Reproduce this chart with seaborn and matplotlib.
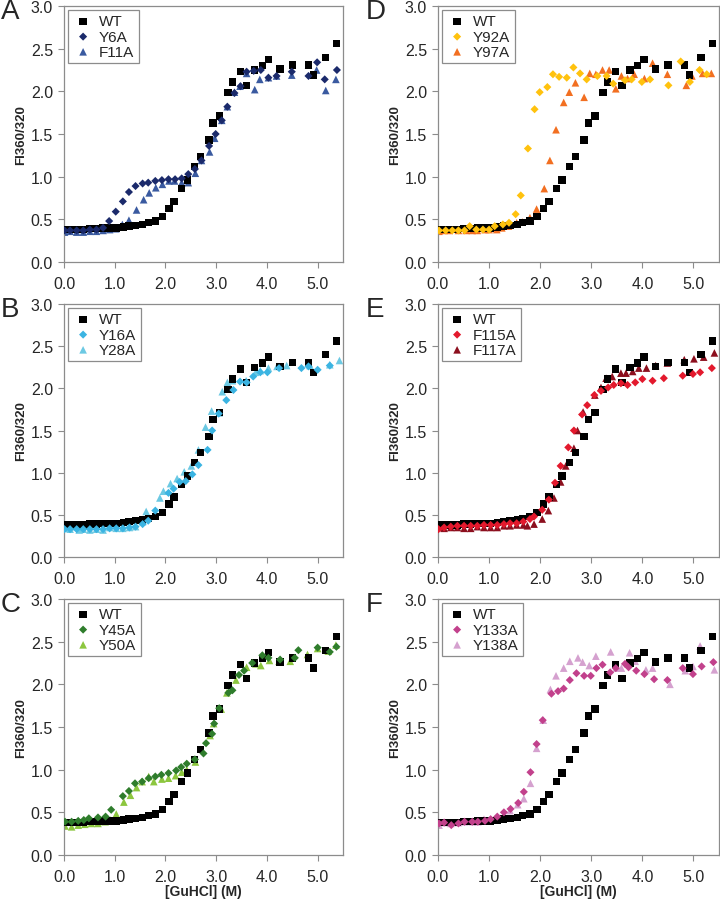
import numpy as np
import pandas as pd
import matplotlib
matplotlib.use("Agg")
import matplotlib.pyplot as plt
import seaborn as sns

sns.set_style("white")
plt.rcParams['font.family'] = ['Liberation Sans', 'DejaVu Sans']

# wild type, same curve in every panel
wt_x = [0.01, 0.11, 0.25, 0.38, 0.51, 0.64, 0.77, 0.90, 1.03, 1.17, 1.28, 1.41, 1.55, 1.66, 1.80, 1.94,
        2.07, 2.17, 2.32, 2.43, 2.57, 2.69, 2.86, 2.94, 3.07, 3.23, 3.32, 3.48, 3.60, 3.76, 3.91, 4.03,
        4.26, 4.50, 4.82, 4.92, 5.15, 5.37]
wt_y = [0.38, 0.38, 0.38, 0.38, 0.39, 0.39, 0.40, 0.40, 0.40, 0.41, 0.42, 0.43, 0.44, 0.46, 0.48, 0.53,
        0.63, 0.71, 0.86, 0.96, 1.12, 1.24, 1.43, 1.63, 1.71, 1.99, 2.11, 2.23, 2.07, 2.25, 2.30, 2.37,
        2.26, 2.31, 2.31, 2.19, 2.40, 2.56]

# panel A
y6a_x = [0.01, 0.12, 0.25, 0.38, 0.51, 0.64, 0.77, 0.89, 1.02, 1.16, 1.28, 1.41, 1.55, 1.66, 1.80, 1.93,
         2.06, 2.19, 2.32, 2.45, 2.58, 2.71, 2.86, 2.99, 3.11, 3.22, 3.36, 3.48, 3.60, 3.74, 3.88, 4.03,
         4.19, 4.49, 4.82, 4.99, 5.14, 5.38]
y6a_y = [0.37, 0.37, 0.37, 0.37, 0.38, 0.38, 0.40, 0.48, 0.59, 0.71, 0.82, 0.89, 0.92, 0.93, 0.95, 0.96,
         0.97, 0.97, 0.98, 1.03, 1.09, 1.19, 1.36, 1.50, 1.66, 1.82, 1.98, 2.06, 2.23, 2.24, 2.25, 2.16,
         2.18, 2.23, 2.18, 2.34, 2.14, 2.25]
f11a_x = [0.01, 0.12, 0.25, 0.38, 0.51, 0.64, 0.77, 0.90, 1.02, 1.15, 1.28, 1.43, 1.57, 1.68, 1.81, 1.94,
          2.07, 2.18, 2.32, 2.45, 2.59, 2.71, 2.87, 2.97, 3.11, 3.22, 3.36, 3.47, 3.60, 3.76, 3.86, 4.03,
          4.19, 4.49, 4.82, 4.98, 5.16, 5.36]
f11a_y = [0.35, 0.36, 0.35, 0.35, 0.36, 0.36, 0.37, 0.38, 0.39, 0.44, 0.49, 0.61, 0.73, 0.81, 0.87, 0.91,
          0.95, 0.95, 0.93, 0.93, 1.04, 1.19, 1.29, 1.45, 1.66, 1.82, 1.99, 2.06, 2.21, 2.02, 2.14, 2.16,
          2.18, 2.19, 2.31, 2.25, 2.01, 2.14]

# panel B
y16a_x = [0.01, 0.12, 0.25, 0.38, 0.51, 0.64, 0.77, 0.90, 1.03, 1.16, 1.29, 1.41, 1.55, 1.66, 1.80, 2.06,
          2.16, 2.28, 2.40, 2.53, 2.65, 2.83, 2.92, 3.05, 3.20, 3.34, 3.47, 3.60, 3.73, 3.87, 4.01, 4.24,
          4.68, 4.82, 5.00, 5.24]
y16a_y = [0.33, 0.33, 0.33, 0.33, 0.33, 0.33, 0.33, 0.34, 0.34, 0.34, 0.35, 0.36, 0.39, 0.43, 0.55, 0.76,
          0.81, 0.89, 0.90, 0.98, 1.09, 1.27, 1.50, 1.70, 1.86, 1.98, 2.08, 2.07, 2.14, 2.19, 2.19, 2.24,
          2.24, 2.26, 2.22, 2.27]
y28a_x = [0.01, 0.12, 0.25, 0.30, 0.38, 0.51, 0.64, 0.77, 0.90, 1.03, 1.16, 1.29, 1.41, 1.55, 1.62, 1.89,
          1.96, 2.10, 2.23, 2.37, 2.51, 2.65, 2.79, 2.91, 3.06, 3.12, 3.22, 3.32, 3.59, 3.78, 3.87, 4.03,
          4.20, 4.39, 4.85, 5.24, 5.43]
y28a_y = [0.34, 0.33, 0.36, 0.32, 0.33, 0.32, 0.33, 0.32, 0.35, 0.34, 0.34, 0.35, 0.36, 0.42, 0.54, 0.70,
          0.78, 0.87, 0.93, 1.01, 1.08, 1.27, 1.54, 1.73, 1.71, 1.96, 2.07, 2.09, 2.09, 2.19, 2.21, 2.24,
          2.26, 2.27, 2.27, 2.28, 2.33]

# panel C
y45a_x = [0.02, 0.15, 0.28, 0.39, 0.49, 0.67, 0.82, 0.93, 1.16, 1.28, 1.40, 1.54, 1.67, 1.80, 1.92, 2.06,
          2.21, 2.31, 2.42, 2.58, 2.75, 2.80, 2.92, 2.96, 3.06, 3.24, 3.32, 3.45, 3.55, 3.71, 3.91, 4.03,
          4.26, 4.55, 4.62, 5.00, 5.24, 5.37]
y45a_y = [0.39, 0.39, 0.40, 0.41, 0.43, 0.44, 0.45, 0.53, 0.69, 0.75, 0.84, 0.86, 0.90, 0.92, 0.94, 0.96,
          0.99, 1.03, 1.07, 1.12, 1.19, 1.31, 1.42, 1.54, 1.72, 1.90, 1.93, 2.11, 2.16, 2.25, 2.34, 2.31,
          2.29, 2.31, 2.40, 2.43, 2.38, 2.44]
y50a_x = [0.02, 0.15, 0.28, 0.41, 0.54, 0.67, 0.81, 0.92, 1.03, 1.18, 1.31, 1.43, 1.54, 1.67, 1.77, 1.93,
          2.06, 2.20, 2.32, 2.42, 2.59, 2.88, 2.95, 3.10, 3.21, 3.39, 3.60, 3.78, 3.88, 4.05, 4.24, 4.46,
          4.80, 5.00, 5.21, 5.36]
y50a_y = [0.34, 0.33, 0.35, 0.36, 0.37, 0.37, 0.39, 0.41, 0.48, 0.62, 0.70, 0.79, 0.86, 0.92, 0.86, 0.89,
          0.90, 0.93, 0.97, 1.00, 1.09, 1.40, 1.54, 1.71, 1.90, 2.05, 2.20, 2.24, 2.22, 2.28, 2.27, 2.27,
          2.35, 2.42, 2.39, 2.46]

# panel D
y92a_x = [0.02, 0.15, 0.28, 0.40, 0.52, 0.62, 0.75, 0.88, 1.00, 1.11, 1.27, 1.39, 1.52, 1.62, 1.76, 1.89,
          1.99, 2.14, 2.25, 2.37, 2.52, 2.65, 2.78, 2.91, 3.12, 3.30, 3.43, 3.66, 3.79, 3.99, 4.15, 4.51,
          4.75, 4.93, 5.12, 5.26]
y92a_y = [0.37, 0.37, 0.37, 0.37, 0.37, 0.42, 0.38, 0.38, 0.38, 0.42, 0.44, 0.46, 0.56, 0.78, 1.33, 1.79,
          1.99, 2.05, 2.20, 2.17, 2.16, 2.28, 2.21, 2.14, 2.18, 2.18, 2.09, 2.13, 2.14, 2.11, 2.14, 2.07,
          2.35, 2.11, 2.25, 2.20]
y97a_x = [0.02, 0.12, 0.22, 0.40, 0.55, 0.67, 0.77, 0.92, 1.00, 1.15, 1.25, 1.38, 1.54, 1.65, 1.80, 1.93,
          2.08, 2.19, 2.31, 2.46, 2.57, 2.69, 2.86, 2.97, 3.09, 3.22, 3.35, 3.48, 3.59, 3.71, 3.84, 4.04,
          4.20, 4.49, 4.86, 4.97, 5.18, 5.35]
y97a_y = [0.36, 0.37, 0.37, 0.37, 0.37, 0.37, 0.37, 0.38, 0.38, 0.38, 0.40, 0.42, 0.46, 0.47, 0.52, 0.62,
          0.86, 1.19, 1.55, 1.87, 1.99, 2.10, 1.93, 2.21, 2.20, 2.25, 2.25, 2.03, 2.18, 2.15, 2.20, 2.15,
          2.33, 2.20, 2.07, 2.18, 2.21, 2.21]

# panel E
f115a_x = [0.01, 0.12, 0.25, 0.38, 0.51, 0.64, 0.77, 0.90, 1.03, 1.16, 1.29, 1.41, 1.54, 1.67, 1.80, 1.88,
           2.04, 2.17, 2.29, 2.40, 2.55, 2.66, 2.82, 2.92, 3.06, 3.19, 3.33, 3.44, 3.58, 3.71, 3.86, 4.00,
           4.20, 4.42, 4.79, 4.99, 5.13, 5.36]
f115a_y = [0.33, 0.35, 0.36, 0.37, 0.37, 0.37, 0.37, 0.38, 0.38, 0.38, 0.39, 0.40, 0.40, 0.42, 0.45, 0.48,
           0.56, 0.68, 0.88, 1.08, 1.30, 1.50, 1.69, 1.80, 1.92, 1.97, 2.01, 2.04, 2.06, 2.04, 2.07, 2.11,
           2.09, 2.12, 2.15, 2.17, 2.19, 2.24]
f117a_x = [0.01, 0.12, 0.25, 0.38, 0.51, 0.64, 0.77, 0.90, 1.03, 1.16, 1.29, 1.41, 1.54, 1.67, 1.75, 1.88,
           2.04, 2.16, 2.27, 2.40, 2.50, 2.66, 2.73, 2.84, 3.07, 3.19, 3.29, 3.41, 3.58, 3.68, 3.81, 3.93,
           4.08, 4.26, 4.49, 4.82, 5.01, 5.20, 5.41]
f117a_y = [0.35, 0.34, 0.35, 0.35, 0.34, 0.34, 0.36, 0.35, 0.35, 0.35, 0.37, 0.37, 0.38, 0.38, 0.37, 0.39,
           0.45, 0.55, 0.70, 0.89, 1.08, 1.29, 1.50, 1.72, 1.92, 2.01, 2.12, 2.14, 2.18, 2.18, 2.20, 2.24,
           2.24, 2.27, 2.30, 2.34, 2.35, 2.37, 2.42]

# panel F
y133a_x = [0.02, 0.12, 0.26, 0.40, 0.52, 0.67, 0.78, 0.92, 1.03, 1.16, 1.29, 1.42, 1.57, 1.68, 1.81, 1.93,
           2.05, 2.22, 2.35, 2.46, 2.58, 2.71, 2.86, 2.99, 3.10, 3.22, 3.37, 3.48, 3.66, 3.73, 3.88, 4.04,
           4.23, 4.49, 4.79, 4.99, 5.16, 5.39]
y133a_y = [0.37, 0.38, 0.35, 0.37, 0.39, 0.39, 0.39, 0.40, 0.42, 0.45, 0.50, 0.54, 0.61, 0.74, 0.97, 1.30,
           1.58, 1.89, 1.92, 1.95, 2.05, 2.13, 2.10, 2.10, 2.19, 2.23, 2.14, 2.19, 2.24, 2.20, 2.16, 2.12,
           2.06, 2.05, 2.19, 2.12, 2.21, 2.26]
y138a_x = [0.02, 0.12, 0.25, 0.40, 0.52, 0.67, 0.78, 0.90, 1.03, 1.16, 1.29, 1.41, 1.56, 1.68, 1.81, 1.93,
           2.06, 2.20, 2.31, 2.46, 2.58, 2.74, 2.83, 2.96, 3.09, 3.38, 3.49, 3.59, 3.75, 3.86, 4.07, 4.20,
           4.54, 4.84, 4.99, 5.13, 5.41]
y138a_y = [0.35, 0.38, 0.37, 0.38, 0.39, 0.39, 0.39, 0.42, 0.41, 0.44, 0.47, 0.52, 0.59, 0.66, 0.84, 1.25,
           1.58, 1.94, 2.10, 2.19, 2.27, 2.31, 2.26, 2.22, 2.33, 2.38, 2.19, 2.19, 2.37, 2.27, 2.17, 2.19,
           2.00, 2.16, 2.21, 2.45, 2.17]

panel_letters = ["A", "B", "C", "D", "E", "F"]
mutant_names = [("Y6A", "F11A"), ("Y16A", "Y28A"), ("Y45A", "Y50A"),
                ("Y92A", "Y97A"), ("F115A", "F117A"), ("Y133A", "Y138A")]
mutant_data = [((y6a_x, y6a_y), (f11a_x, f11a_y)),
               ((y16a_x, y16a_y), (y28a_x, y28a_y)),
               ((y45a_x, y45a_y), (y50a_x, y50a_y)),
               ((y92a_x, y92a_y), (y97a_x, y97a_y)),
               ((f115a_x, f115a_y), (f117a_x, f117a_y)),
               ((y133a_x, y133a_y), (y138a_x, y138a_y))]
mutant_colors = [("#1b2a6b", "#3a5aa0"), ("#3bb4e2", "#6cc9e3"), ("#2f7d2c", "#8cc63e"),
                 ("#ffc20e", "#f26f21"), ("#e3192d", "#8c0f1e"), ("#c2418c", "#d5a1cf")]

fig = plt.figure(figsize=(7.2, 9.03), dpi=100)
W, H = 720, 903
col_left = [64, 438]
col_width = [279, 281]
row_top = [7, 305, 600]
row_bot = [263, 558, 856]
grey = "#8c8c8c"
ticks_x = np.arange(0, 6, 1.0)
ticks_y = np.arange(0, 3.01, 0.5)

for i in range(6):
    c, r = i // 3, i % 3
    ax = fig.add_axes([col_left[c] / W, 1 - row_bot[r] / H,
                       col_width[c] / W, (row_bot[r] - row_top[r]) / H])
    sns.scatterplot(x=wt_x, y=wt_y, ax=ax, marker="s", s=28, color="black",
                    edgecolor="none", label="WT", zorder=3)
    (ax1, ay1), (ax2, ay2) = mutant_data[i]
    n1, n2 = mutant_names[i]
    c1, c2 = mutant_colors[i]
    sns.scatterplot(x=ax1, y=ay1, ax=ax, marker="D", s=17, color=c1,
                    edgecolor="none", label=n1, zorder=4)
    sns.scatterplot(x=ax2, y=ay2, ax=ax, marker="^", s=30, color=c2,
                    edgecolor="none", label=n2, zorder=2)
    ax.set_xlim(0, 5.5)
    ax.set_ylim(0, 3.0)
    ax.set_xticks(ticks_x)
    ax.set_xticklabels([f"{v:.1f}" for v in ticks_x])
    ax.set_yticks(ticks_y)
    ax.set_yticklabels([f"{v:.1f}" for v in ticks_y])
    ax.tick_params(axis="both", direction="out", length=4, width=0.8, color=grey,
                   labelsize=11.5, left=True, bottom=True)
    ax.tick_params(axis="x", pad=6)
    ax.tick_params(axis="y", pad=4)
    for sp in ax.spines.values():
        sp.set_color(grey)
        sp.set_linewidth(0.9)
    ax.set_ylabel("FI360/320", fontsize=9.5, fontweight="bold")
    ax.yaxis.set_label_coords(-37 / col_width[c], 0.5)
    if r == 2:
        ax.set_xlabel("[GuHCl] (M)", fontsize=10, fontweight="bold")
        ax.xaxis.set_label_coords(0.5, -29 / (row_bot[r] - row_top[r]))
    leg = ax.legend(loc="upper left", fontsize=11, frameon=True, fancybox=False,
                    edgecolor=grey, framealpha=1, borderpad=0.3, labelspacing=0.08,
                    handletextpad=0.35, handlelength=1.4, borderaxespad=0.25)
    leg.get_frame().set_linewidth(0.9)
    fig.text((1 if c == 0 else 366) / W, 1 - (row_top[r] + 12) / H, panel_letters[i],
             fontsize=20, va="baseline", ha="left")

fig.savefig("out.png", dpi=100)
